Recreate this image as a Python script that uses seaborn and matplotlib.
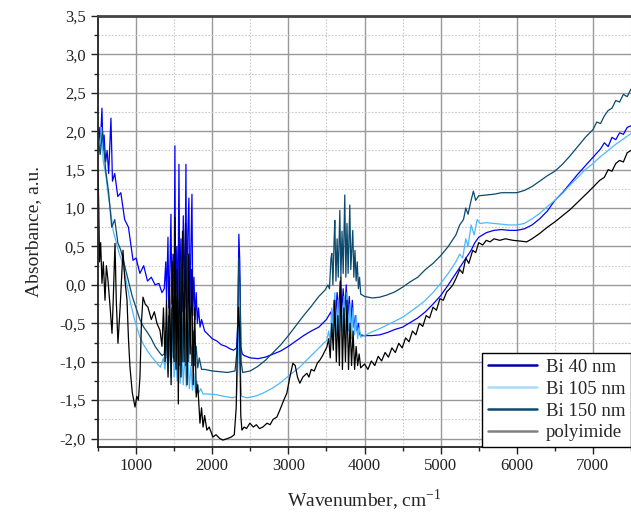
import numpy as np
import matplotlib
matplotlib.use('Agg')
import matplotlib.pyplot as plt
from matplotlib.lines import Line2D
from matplotlib.ticker import MultipleLocator, FuncFormatter
import seaborn as sns

# values
bi40_wn = [500, 515, 530, 552, 565, 580, 600, 620, 640, 670, 690, 720, 760, 800, 850, 900, 960, 1000,
           1050, 1100, 1150, 1200, 1250, 1300, 1340,
           1370, 1390, 1400, 1419, 1430, 1445, 1458, 1470, 1485, 1500, 1510, 1520, 1535, 1550, 1563,
           1575, 1590, 1605, 1620, 1640, 1655, 1665, 1680, 1694, 1705, 1720, 1734, 1745, 1760, 1775,
           1790, 1805, 1820, 1840, 1860,
           1900, 1950, 2000, 2060, 2120, 2180, 2230, 2280, 2320, 2335, 2350, 2362, 2375, 2395, 2420,
           2500, 2600, 2700, 2800, 2900, 3000, 3100, 3200, 3300, 3400, 3500,
           3560, 3580, 3600, 3620, 3640, 3660, 3680, 3700, 3720, 3740, 3760, 3780, 3800, 3820, 3840,
           3860, 3880, 3900, 3920, 3940,
           4000, 4100, 4200, 4300, 4400, 4500, 4600, 4700, 4800, 4900, 5000, 5100, 5200, 5300, 5400,
           5450, 5500, 5600, 5700, 5800, 5900, 6000, 6100, 6200, 6300, 6400, 6500, 6600, 6700, 6800,
           6900, 7000, 7100, 7150, 7200, 7250, 7300, 7350, 7400, 7450, 7500]
bi40_abs = [1.85, 2.05, 1.8, 2.30, 1.75, 1.95, 1.6, 1.75, 1.45, 2.17, 1.35, 1.45, 1.15, 1.2, 0.85, 0.75, 0.32, 0.35,
            0.15, 0.25, 0.05, 0.1, 0.0, 0.02, -0.1,
            -0.05, 0.3, -0.2, 0.62, -0.3, 0.2, 0.92, -0.25, 0.4, -0.1, 1.81, -0.3, 0.5, -0.4, 1.57,
            -0.2, 0.6, -0.35, 0.9, -0.3, 1.57, -0.4, 0.7, 1.13, -0.45, 0.5, 1.18, -0.4, 0.1, -0.45,
            -0.1, -0.5, -0.3, -0.55, -0.45,
            -0.6, -0.65, -0.7, -0.73, -0.78, -0.8, -0.83, -0.85, -0.82, -0.5, 0.66, 0.3, -0.8, -0.9, -0.92,
            -0.95, -0.96, -0.94, -0.9, -0.86, -0.8, -0.73, -0.66, -0.6, -0.55, -0.45,
            -0.35, -0.5, -0.2, -0.45, -0.1, -0.4, 0.05, -0.35, -0.05, -0.4, 0.0, -0.45, -0.15, -0.5, -0.2,
            -0.55, -0.4, -0.6, -0.5, -0.65,
            -0.66, -0.66, -0.65, -0.62, -0.58, -0.55, -0.49, -0.43, -0.35, -0.25, -0.14, 0.0, 0.15, 0.3, 0.45,
            0.55, 0.62, 0.68, 0.71, 0.72, 0.71, 0.71, 0.73, 0.78, 0.86, 0.96, 1.1, 1.2, 1.32, 1.44,
            1.55, 1.66, 1.77, 1.85, 1.8, 1.92, 1.89, 1.98, 1.96, 2.05, 2.07]

bi105_wn = [500, 520, 545, 570, 600, 630, 660, 700, 740, 780, 828, 880, 930, 980, 1050, 1100, 1150, 1200,
            1274, 1320,
            1360, 1380, 1400, 1420, 1440, 1460, 1480, 1500, 1520, 1540, 1560, 1580, 1600, 1620, 1640,
            1660, 1680, 1700, 1720, 1740, 1760, 1780, 1800, 1820, 1850, 1880,
            1950, 2062, 2150, 2272, 2320, 2340, 2352, 2365, 2385, 2455, 2560, 2665, 2780, 2888, 3020,
            3151, 3280, 3413, 3505,
            3530, 3550, 3570, 3590, 3610, 3630, 3650, 3670, 3690, 3710, 3730, 3750, 3770, 3790, 3810,
            3830, 3850, 3870, 3890, 3910, 3930, 3950,
            4000, 4100, 4200, 4300, 4400, 4503, 4600, 4700, 4800, 4900, 5000, 5100, 5200, 5250, 5290,
            5330, 5360, 5400, 5440, 5480, 5520, 5600, 5700, 5800, 5900, 6000, 6100, 6200, 6300, 6400,
            6500, 6600, 6700, 6800, 6900, 7000, 7100, 7200, 7300, 7400, 7500]
bi105_abs = [1.95, 1.7, 2.05, 1.6, 1.45, 1.2, 1.0, 0.7, 0.55, 0.4, 0.28, 0.0, -0.25, -0.45, -0.68, -0.78, -0.86, -0.93,
             -1.02, -1.07,
             -0.95, -1.1, -0.8, -1.15, -0.7, -1.2, -0.6, -1.2, -0.9, -1.25, -0.8, -1.28, -0.85, -1.3, -0.9,
             -1.32, -0.95, -1.35, -1.05, -1.37, -1.15, -1.4, -1.25, -1.41, -1.35, -1.42,
             -1.42, -1.43, -1.45, -1.47, -1.45, -1.0, -0.3, -0.9, -1.45, -1.47, -1.45, -1.41, -1.35, -1.28, -1.17,
             -1.07, -0.94, -0.81, -0.72,
             -0.6, -0.75, -0.3, -0.7, -0.1, -0.65, -0.2, -0.7, -0.05, -0.6, -0.15, -0.7, -0.1, -0.6, -0.25,
             -0.7, -0.3, -0.65, -0.4, -0.7, -0.55, -0.68,
             -0.66, -0.61, -0.57, -0.52, -0.47, -0.42, -0.35, -0.28, -0.2, -0.1, 0.02, 0.15, 0.3, 0.4, 0.35,
             0.6, 0.5, 0.78, 0.65, 0.85, 0.8, 0.81, 0.8, 0.79, 0.78, 0.78, 0.8, 0.86, 0.93, 1.02,
             1.1, 1.19, 1.3, 1.4, 1.5, 1.58, 1.67, 1.75, 1.83, 1.9, 1.97]

bi150_wn = [500, 530, 560, 600, 640, 680, 720, 760, 800, 850, 900, 950, 1000, 1050, 1100, 1150, 1200, 1250,
            1300, 1340,
            1370, 1390, 1410, 1430, 1450, 1470, 1490, 1510, 1530, 1550, 1570, 1590, 1610, 1630, 1650,
            1670, 1690, 1710, 1730, 1750, 1770, 1790, 1810, 1830, 1860,
            1900, 2000, 2100, 2200, 2300, 2330, 2350, 2365, 2380, 2400, 2500, 2600, 2700, 2800, 2900,
            3000, 3100, 3200, 3300, 3400, 3480,
            3520, 3540, 3560, 3571, 3585, 3600, 3610, 3625, 3640, 3655, 3676, 3690, 3705, 3720, 3741,
            3755, 3770, 3785, 3807, 3820, 3846, 3860, 3875, 3890, 3905, 3920, 3935, 3950,
            4000, 4100, 4200, 4300, 4400, 4500, 4600, 4700, 4800, 4900, 5000, 5100, 5200, 5250, 5300,
            5330, 5360, 5400, 5430, 5460, 5500, 5600, 5700, 5800, 5900, 6000, 6100, 6200, 6300, 6400,
            6500, 6600, 6700, 6800, 6900, 7000, 7050, 7100, 7150, 7200, 7250, 7300, 7350, 7400, 7450, 7500]
bi150_abs = [1.9, 1.7, 2.0, 1.5, 1.2, 0.75, 0.85, 0.55, 0.45, 0.25, 0.05, -0.15, -0.3, -0.45, -0.55, -0.62, -0.7, -0.8,
             -0.87, -0.92,
             -0.9, -0.6, -0.95, -0.4, -1.0, -0.3, -0.95, 0.2, -1.0, -0.2, -1.05, 0.3, -1.0, -0.1, -1.05,
             0.4, -1.0, -0.3, -1.05, -0.6, -1.05, -0.8, -1.08, -0.95, -1.1,
             -1.1, -1.12, -1.13, -1.14, -1.12, -0.8, 0.35, 0.0, -1.0, -1.14, -1.12, -1.06, -0.98, -0.88, -0.78,
             -0.66, -0.53, -0.4, -0.28, -0.15, -0.07,
             0.0, -0.05, 0.35, 0.41, 0.0, 0.55, 0.84, 0.05, 0.6, 0.1, 0.97, 0.1, 0.7, 0.15, 1.17,
             0.1, 0.8, 0.15, 1.04, 0.2, 0.71, 0.1, 0.45, 0.05, 0.3, -0.05, 0.1, -0.12,
             -0.15, -0.17, -0.16, -0.13, -0.09, -0.03, 0.04, 0.1, 0.2, 0.28, 0.38, 0.5, 0.65, 0.78, 0.85,
             1.0, 0.92, 1.1, 1.22, 1.1, 1.16, 1.17, 1.18, 1.2, 1.2, 1.2, 1.23, 1.28, 1.35, 1.42,
             1.48, 1.57, 1.68, 1.8, 1.92, 2.02, 2.12, 2.1, 2.2, 2.27, 2.3, 2.4, 2.38, 2.48, 2.45, 2.55]

poly_wn = [500, 510, 520, 535, 552, 570, 592, 610, 631, 660, 684, 700, 723, 740, 762, 790, 810, 828, 850, 881,
           900, 920, 950, 986, 1010, 1030, 1051, 1070, 1091, 1120, 1156, 1200, 1240, 1274, 1314,
           1340, 1360, 1380, 1400, 1420, 1440, 1460, 1480, 1500, 1510, 1525, 1540, 1555, 1570, 1590,
           1610, 1630, 1650, 1670, 1690, 1710, 1730, 1750, 1770, 1790,
           1810, 1839, 1860, 1880, 1900, 1930, 1960, 2009, 2050, 2100, 2140, 2200, 2250, 2290, 2315,
           2330, 2345, 2360, 2375, 2390, 2420, 2450, 2495, 2540, 2580, 2620, 2665, 2720, 2760, 2800,
           2849, 2888, 2940, 2980, 3020, 3059, 3090, 3120, 3151, 3190, 3243, 3270, 3300, 3340, 3380,
           3413, 3450, 3505,
           3530, 3550, 3570, 3590, 3610, 3630, 3650, 3670, 3690, 3710, 3730, 3750, 3770, 3790, 3810,
           3830, 3850, 3870, 3890, 3910, 3930, 3950,
           4000, 4045, 4090, 4135, 4180, 4225, 4270, 4315, 4360, 4405, 4450, 4495, 4540, 4585, 4630,
           4675, 4720, 4765, 4810, 4855, 4900, 4945, 4990, 5035, 5080, 5120,
           5160, 5200, 5251, 5290, 5330, 5370, 5421, 5460, 5500, 5552, 5600, 5650, 5700, 5776, 5850,
           5950, 6050, 6130, 6200, 6301, 6400, 6500, 6563, 6700, 6825, 6950, 7088, 7150, 7200, 7250,
           7300, 7350, 7400, 7450, 7500]
poly_abs = [1.5, 1.0, 0.3, 0.55, 0.02, 0.3, -0.2, 0.25, 0.06, -0.3, -0.63, -0.2, 0.54, -0.2, -0.76, -0.3, 0.1, 0.45, 0.1, -0.2,
            -0.7, -1.07, -1.4, -1.59, -1.45, -1.5, -1.2, -0.5, -0.16, -0.25, -0.29, -0.45, -0.35, -0.5, -0.59,
            -0.8, -0.3, -1.0, -0.2, -1.2, 0.1, -1.3, 0.3, -1.0, 0.88, -1.1, 0.2, -1.55, 0.5, -1.2,
            0.7, -1.0, 0.8, -1.3, 0.4, -0.9, 0.2, -1.3, -0.3, -1.46,
            -1.3, -1.8, -1.6, -1.85, -1.7, -1.89, -1.85, -1.98, -1.95, -2.0, -2.02, -2.0, -1.98, -1.95, -1.6,
            -0.8, -0.29, -0.6, -1.7, -1.89, -1.85, -1.87, -1.8, -1.85, -1.82, -1.87, -1.85, -1.8, -1.82, -1.75,
            -1.72, -1.63, -1.5, -1.41, -1.2, -1.02, -1.05, -1.2, -1.28, -1.2, -1.15, -1.2, -1.1, -1.12, -1.02,
            -0.98, -0.92, -0.81,
            -0.7, -0.95, -0.5, -0.85, -0.2, -1.0, -0.4, -1.05, 0.1, -1.1, -0.3, -1.0, -0.2, -1.1, -0.5,
            -1.05, -0.6, -1.1, -0.8, -1.05, -0.9, -1.08,
            -1.03, -1.1, -0.99, -1.05, -0.93, -0.99, -0.88, -0.94, -0.82, -0.88, -0.76, -0.82, -0.69, -0.74, -0.6,
            -0.65, -0.5, -0.54, -0.4, -0.43, -0.29, -0.33, -0.18, -0.2, -0.09, -0.05,
            0.0, 0.08, 0.2, 0.15, 0.35, 0.28, 0.45, 0.42, 0.55, 0.52, 0.58, 0.56, 0.6, 0.58, 0.6,
            0.58, 0.57, 0.56, 0.6, 0.67, 0.75, 0.82, 0.87, 0.98, 1.1, 1.22, 1.36, 1.4, 1.5, 1.48,
            1.58, 1.62, 1.6, 1.72, 1.75]

labels = ['Bi 40 nm', 'Bi 105 nm', 'Bi 150 nm', 'polyimide']
line_colors = ['#0000ff', '#4db8ff', '#0b4a6e', '#000000']
legend_colors = ['#0000a8', '#a8dcfb', '#0b4a6e', '#808080']

sns.set_style('ticks')
plt.rcParams['font.family'] = ['Liberation Serif', 'DejaVu Serif']
plt.rcParams['mathtext.fontset'] = 'stix'

fig = plt.figure(figsize=(6.31, 5.16), dpi=100)
ax = fig.add_axes([98 / 631, 1 - 447 / 516, 1 - 98 / 631, (447 - 16) / 516])

series = [(bi40_wn, bi40_abs), (bi105_wn, bi105_abs), (bi150_wn, bi150_abs), (poly_wn, poly_abs)]
for (wn, ab), lab, col in zip(series, labels, line_colors):
    sns.lineplot(x=wn, y=ab, ax=ax, color=col, lw=0.9, sort=False, estimator=None, label=lab)

ax.set_xlim(500, 7500)
ax.set_ylim(-2.11, 3.5)
ax.xaxis.set_major_locator(MultipleLocator(1000))
ax.xaxis.set_minor_locator(MultipleLocator(500))
ax.yaxis.set_major_locator(MultipleLocator(0.5))
ax.yaxis.set_minor_locator(MultipleLocator(0.25))
ax.yaxis.set_major_formatter(FuncFormatter(lambda v, p: f'{v:.1f}'.replace('.', ',')))

ax.grid(which='major', color='#999999', lw=1.0, ls='-')
ax.grid(which='minor', color='#c8c8c8', lw=0.8, ls=(0, (1.5, 1.5)))
ax.set_axisbelow(True)

ax.tick_params(which='major', direction='out', length=5, width=1, labelsize=12, colors='#222222')
ax.tick_params(which='minor', direction='out', length=3, width=1)
ax.tick_params(axis='x', pad=3)
ax.tick_params(axis='y', pad=4)
for s in ['left', 'bottom']:
    ax.spines[s].set_color('#222222')
    ax.spines[s].set_linewidth(1.3)
ax.spines['top'].set_color('#444444')
ax.spines['top'].set_linewidth(2)
ax.spines['right'].set_visible(False)

ax.set_xlabel('Wavenumber, cm$^{\\mathregular{-1}}$', fontsize=14, labelpad=9)
ax.set_ylabel('Absorbance, a.u.', fontsize=14, labelpad=12)

handles = [Line2D([], [], color=c, lw=1.8) for c in legend_colors]
leg = ax.legend(handles, labels, loc='lower right', fontsize=13.5, frameon=True, fancybox=False,
                edgecolor='black', framealpha=1, borderaxespad=0, handlelength=2.6,
                borderpad=0.3, labelspacing=0.25, handletextpad=0.5)
leg.get_frame().set_linewidth(1.0)

fig.savefig('out.png', dpi=100)
